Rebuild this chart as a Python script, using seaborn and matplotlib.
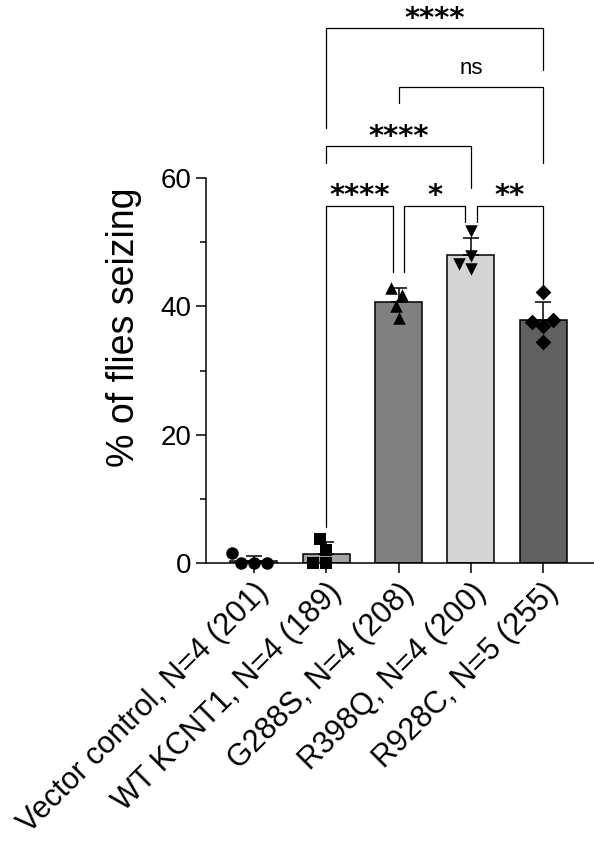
import matplotlib
matplotlib.use('Agg')
import matplotlib.pyplot as plt
from matplotlib.ticker import MultipleLocator
import seaborn as sns
import pandas as pd
import numpy as np

# group labels on the x axis
groups = ['Vector control, N=4 (201)', 'WT KCNT1, N=4 (189)', 'G288S, N=4 (208)',
          'R398Q, N=4 (200)', 'R928C, N=5 (255)']

# % of flies seizing, one value per replicate
vector_ctrl = [0.0, 1.5, 0.0, 0.0]
wt_kcnt1 = [0.0, 0.0, 2.0, 3.7]
g288s = [41.8, 42.9, 40.1, 38.2]
r398q = [47.8, 46.6, 45.8, 51.8]
r928c = [37.9, 37.5, 36.9, 34.4, 42.3]

# significance comparisons (group index pairs) and labels
comparisons = [(1, 4, '****'), (2, 4, 'ns'), (1, 3, '****'),
               (1, 2, '****'), (2, 3, '*'), (3, 4, '**')]

bar_colors = ['#ffffff', '#a3a3a3', '#808080', '#d4d4d4', '#606060']
markers = ['o', 's', '^', 'v', 'D']
marker_sizes = [9, 9, 9, 9, 8]


def make_df():
    values = [vector_ctrl, wt_kcnt1, g288s, r398q, r928c]
    rows = []
    for g, vals in zip(groups, values):
        for v in vals:
            rows.append({'group': g, 'pct': v})
    return pd.DataFrame(rows)


def draw_bracket(ax, x1, x2, y, yl, yr, label):
    ax.plot([x1, x1, x2, x2], [yl, y, y, yr], color='black', lw=0.9,
            clip_on=False, solid_joinstyle='miter')
    xm = (x1 + x2) / 2
    if label == 'ns':
        ax.text(xm, y + 2.1, label, ha='center', va='baseline', fontsize=16,
                color='black', clip_on=False)
    else:
        ax.text(xm, y + 0.2, label, ha='center', va='baseline', fontsize=21,
                fontweight='bold', family=['DejaVu Sans'], color='black',
                clip_on=False)


def main():
    df = make_df()

    sns.set_style('ticks')
    plt.rcParams['font.family'] = ['Liberation Sans', 'DejaVu Sans']
    plt.rcParams['text.color'] = 'black'
    plt.rcParams['axes.labelcolor'] = 'black'
    plt.rcParams['xtick.color'] = 'black'
    plt.rcParams['ytick.color'] = 'black'
    plt.rcParams['axes.edgecolor'] = 'black'

    fig = plt.figure(figsize=(5.94, 8.44), dpi=100)
    ax = fig.add_axes([0.347, 0.333, 0.653, 0.456])

    sns.barplot(data=df, x='group', y='pct', order=groups, hue='group',
                hue_order=groups, palette=bar_colors, legend=False,
                errorbar=None, width=0.65, edgecolor='black', linewidth=1.1,
                ax=ax, zorder=1)

    stats = df.groupby('group', sort=False)['pct'].agg(['mean', 'std']).reindex(groups)
    ax.errorbar(np.arange(len(groups)), stats['mean'],
                yerr=[np.zeros(len(groups)), stats['std']], fmt='none',
                ecolor='black', elinewidth=1.1, capsize=6, capthick=1.1, zorder=3)

    for i, g in enumerate(groups):
        sns.swarmplot(data=df[df['group'] == g], x='group', y='pct', order=groups,
                      marker=markers[i], color='black', size=marker_sizes[i],
                      ax=ax, zorder=4)
    for c in ax.collections:
        c.set_clip_on(False)

    # bracket layout: (x1, x2, bar y, left leg end, right leg end)
    layout = [(1, 4, 83.4, 67.8, 76.8), (2, 4, 74.2, 71.7, 62.3),
              (1, 3, 65.0, 62.3, 58.4), (1, 1.92, 55.7, 5.6, 45.3),
              (2.08, 2.92, 55.7, 45.3, 53.1), (3.08, 4, 55.7, 53.1, 42.9)]
    for (a, b, label), (x1, x2, y, yl, yr) in zip(comparisons, layout):
        draw_bracket(ax, x1, x2, y, yl, yr, label)

    ax.set_xlim(-0.66, 4.7)
    ax.set_ylim(0, 60)
    ax.spines['top'].set_visible(False)
    ax.spines['right'].set_visible(False)
    ax.spines['left'].set_bounds(0, 60)
    for s in ['left', 'bottom']:
        ax.spines[s].set_linewidth(1.1)
    ax.yaxis.set_major_locator(MultipleLocator(20))
    ax.yaxis.set_minor_locator(MultipleLocator(10))
    ax.tick_params(which='major', length=7, width=1.1, labelsize=20, color='black',
                   labelcolor='black')
    ax.tick_params(which='minor', length=4, width=1.1, color='black')
    ax.set_xticks(range(len(groups)))
    ax.set_xticklabels(groups, rotation=45, ha='right', rotation_mode='anchor',
                       fontsize=22)
    ax.set_xlabel('')
    ax.set_ylabel('% of flies seizing', fontsize=27, color='black')
    ax.yaxis.set_label_coords(-0.165, 0.613)

    fig.savefig('out.png', dpi=100, facecolor='white')


if __name__ == '__main__':
    main()
